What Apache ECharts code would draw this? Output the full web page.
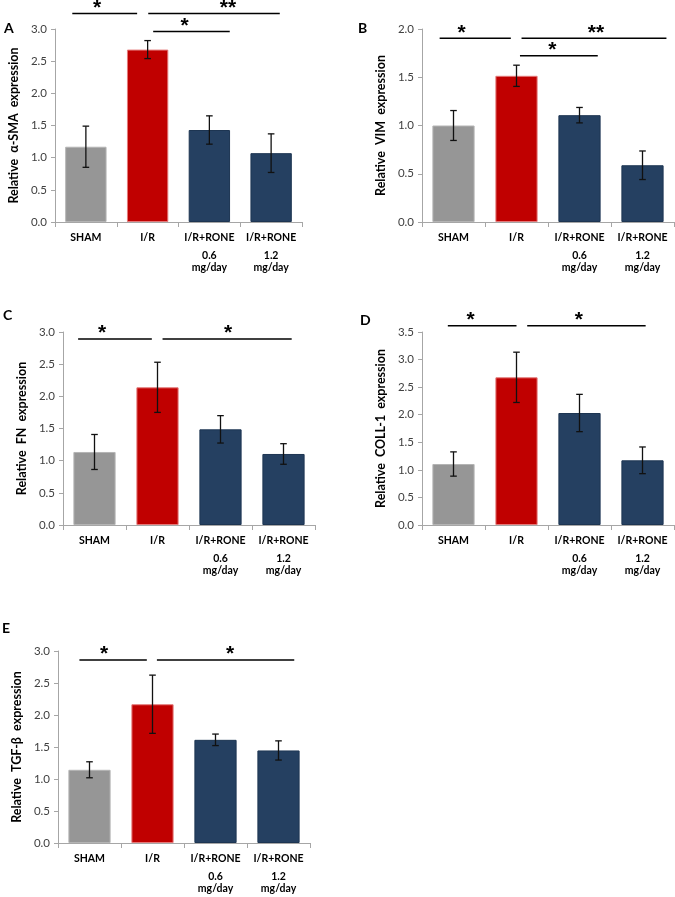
<!DOCTYPE html>
<html><head><meta charset="utf-8">
<script src="https://cdn.jsdelivr.net/npm/echarts@6/dist/echarts.min.js"></script>
<style>html,body{margin:0;padding:0;background:#fff}#c{width:675px;height:897px}</style>
</head><body><div id="c"></div>
<script>
const categories = ['SHAM', 'I/R', 'I/R+RONE\n0.6\nmg/day', 'I/R+RONE\n1.2\nmg/day'];

const smaMean  = [1.17, 2.68, 1.43, 1.07];
const smaErr   = [0.32, 0.14, 0.22, 0.30];
const vimMean  = [1.00, 1.515, 1.107, 0.588];
const vimErr   = [0.155, 0.11, 0.08, 0.148];
const fnMean   = [1.135, 2.14, 1.487, 1.104];
const fnErr    = [0.272, 0.39, 0.213, 0.16];
const collMean = [1.106, 2.678, 2.031, 1.173];
const collErr  = [0.22, 0.456, 0.338, 0.242];
const tgfMean  = [1.144, 2.168, 1.612, 1.446];
const tgfErr   = [0.125, 0.455, 0.09, 0.15];

const yMax = [3.0, 2.0, 3.0, 3.5, 3.0];
const yNames = ['Relative  \u03b1-SMA  expression', 'Relative  VIM  expression', 'Relative  FN  expression', 'Relative  COLL-1  expression', 'Relative  TGF-\u03b2  expression'];
const panelLetters = ['A', 'B', 'C', 'D', 'E'];

// significance brackets: [from category position, to category position, level (axis units), star position, mark]
const sigA = [[-0.22, 0.83, 3.24, 0.18, '*'], [1.01, 3.14, 3.24, 2.30, '**'], [1.09, 2.33, 2.96, 1.60, '*']];
const sigB = [[-0.22, 0.91, 1.904, 0.13, '*'], [1.08, 3.38, 1.904, 2.26, '**'], [1.055, 2.29, 1.724, 1.57, '*']];
const sigC = [[-0.26, 0.91, 2.89, 0.12, '*'], [1.08, 3.13, 2.89, 2.12, '*']];
const sigD = [[-0.09, 1.00, 3.614, 0.27, '*'], [1.17, 3.05, 3.614, 1.99, '*']];
const sigE = [[-0.16, 0.91, 2.86, 0.23, '*'], [1.07, 3.25, 2.86, 2.23, '*']];

const means = [smaMean, vimMean, fnMean, collMean, tgfMean];
const errs = [smaErr, vimErr, fnErr, collErr, tgfErr];
const sigs = [sigA, sigB, sigC, sigD, sigE];

const fills = ['#969696', '#c00000', '#254061', '#254061'];
const borders = ['#b4b4b4', '#e47a7a', '#1d3552', '#1d3552'];
const FONT = 'Lato';
const axisGray = '#a6a6a6';

const gridsPos = [
  {left: 55, top: 29, width: 247, height: 193},
  {left: 422, top: 29, width: 252, height: 193},
  {left: 63, top: 332, width: 252, height: 193},
  {left: 422, top: 332, width: 252, height: 193},
  {left: 58, top: 651, width: 252, height: 192}
];
const letterPos = [[4, 29], [358, 29], [3, 316], [360, 321], [2, 629]];

const grid = [], xAxis = [], yAxis = [], series = [], graphic = [];
for (let k = 0; k < 5; k++) {
  grid.push(Object.assign({containLabel: false}, gridsPos[k]));
  xAxis.push({
    type: 'category', gridIndex: k, data: categories, boundaryGap: true,
    axisLine: {show: true, lineStyle: {color: axisGray, width: 1}},
    axisTick: {show: true, length: 5, interval: 0, lineStyle: {color: axisGray}},
    axisLabel: {
      interval: 0, margin: 5, fontFamily: FONT, fontWeight: 'bold', fontSize: 10.5, color: '#000',
      formatter: v => v.split('\n').map((s, i) => '{' + ['a', 'b', 'c'][i] + '|' + s + '}').join('\n'),
      rich: {
        a: {fontFamily: FONT, fontWeight: 'bold', fontSize: 10.5, color: '#000', lineHeight: 22},
        b: {fontFamily: FONT, fontWeight: 'bold', fontSize: 10.5, color: '#000', lineHeight: 13},
        c: {fontFamily: FONT, fontWeight: 'bold', fontSize: 10.5, color: '#000', lineHeight: 11}
      }
    }
  });
  yAxis.push({
    type: 'value', gridIndex: k, min: 0, max: yMax[k], interval: 0.5,
    name: yNames[k], nameLocation: 'middle', nameGap: 35,
    nameTextStyle: {fontFamily: FONT, fontWeight: 'bold', fontSize: 12.5, color: '#000'},
    axisLine: {show: true, lineStyle: {color: axisGray, width: 1}},
    axisTick: {show: true, length: 4, lineStyle: {color: axisGray}},
    splitLine: {show: false},
    axisLabel: {fontFamily: FONT, fontSize: 11.5, color: '#404040', margin: 8, formatter: v => v.toFixed(1)}
  });
  series.push({
    type: 'bar', xAxisIndex: k, yAxisIndex: k, barWidth: '67%',
    data: means[k].map((v, i) => ({value: v, itemStyle: {color: fills[i], borderColor: borders[i], borderWidth: 1}})),
    z: 2, silent: true
  });
  series.push({
    type: 'custom', xAxisIndex: k, yAxisIndex: k, z: 5, silent: true,
    data: means[k].map((m, i) => [i, m, errs[k][i]]),
    renderItem: (params, api) => {
      const x = api.value(0), m = api.value(1), e = api.value(2);
      const t = api.coord([x, m + e]);
      const b = api.coord([x, m - e]);
      const c = 3.3;
      const st = {stroke: '#111', lineWidth: 1.3};
      return {type: 'group', children: [
        {type: 'line', shape: {x1: t[0], y1: t[1], x2: b[0], y2: b[1]}, style: st},
        {type: 'line', shape: {x1: t[0] - c, y1: t[1], x2: t[0] + c, y2: t[1]}, style: st},
        {type: 'line', shape: {x1: b[0] - c, y1: b[1], x2: b[0] + c, y2: b[1]}, style: st}
      ]};
    }
  });
  const sig = sigs[k];
  series.push({
    type: 'custom', xAxisIndex: k, yAxisIndex: k, z: 6, silent: true, clip: false,
    encode: {x: 0, y: 2},
    data: sig.map(r => r.slice(0, 4)),
    renderItem: (params, api) => {
      const r = sig[params.dataIndex];
      const base = api.coord([0, r[2]]);
      const bw = api.size([1, 0])[0];
      const x1 = base[0] + r[0] * bw, x2 = base[0] + r[1] * bw, sx = base[0] + r[3] * bw;
      return {type: 'group', children: [
        {type: 'line', shape: {x1: x1, y1: base[1], x2: x2, y2: base[1]}, style: {stroke: '#000', lineWidth: 1.5}},
        {type: 'text', x: sx, y: base[1] + 5, style: {text: r[4], fill: '#000', font: 'bold 21px "Liberation Sans"', textAlign: 'center', textVerticalAlign: 'bottom'}}
      ]};
    }
  });
  graphic.push({type: 'text', left: letterPos[k][0], top: letterPos[k][1] - 8,
    style: {text: panelLetters[k], fill: '#000', font: 'bold 14px ' + FONT}});
}

const chart = echarts.init(document.getElementById('c'), null, {renderer: 'canvas'});
chart.setOption({animation: false, backgroundColor: '#fff', grid, xAxis, yAxis, series, graphic});
</script>
</body></html>
